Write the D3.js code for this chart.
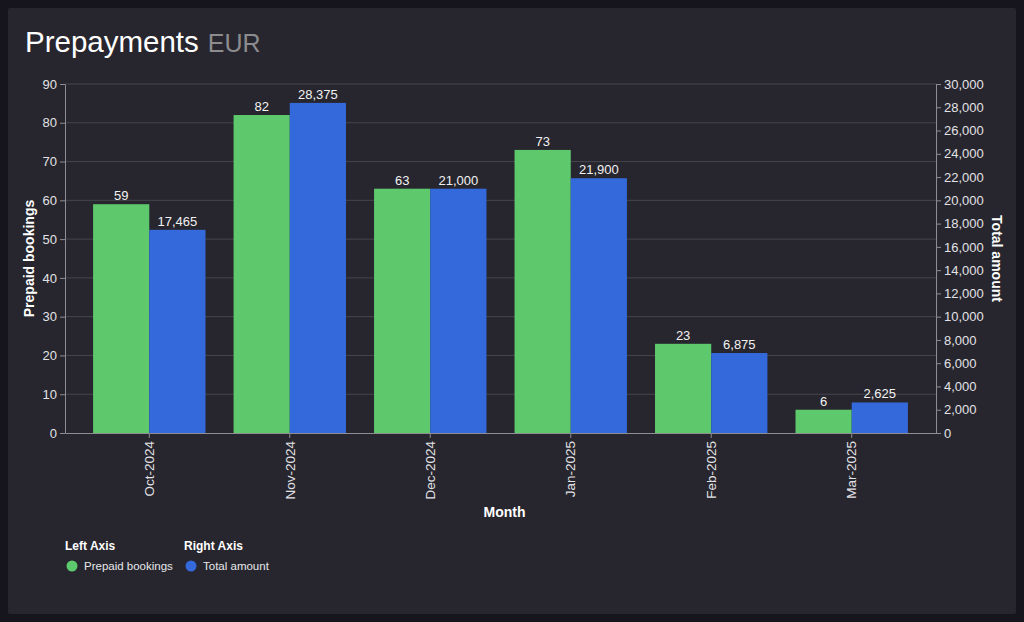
<!DOCTYPE html>
<html>
<head>
<meta charset="utf-8">
<script src="https://cdn.jsdelivr.net/npm/d3@7"></script>
<style>
  html, body { margin: 0; padding: 0; background: #16151d; }
  svg { display: block; font-family: "Liberation Sans", Arial, sans-serif; }
</style>
</head>
<body>
<div id="plot"></div>
<script>
// data
var months = ["Oct-2024", "Nov-2024", "Dec-2024", "Jan-2025", "Feb-2025", "Mar-2025"];
var bookings = [59, 82, 63, 73, 23, 6];
var amounts = [17465, 28375, 21000, 21900, 6875, 2625];
var leftTicks = [0, 10, 20, 30, 40, 50, 60, 70, 80, 90];
var rightTicks = d3.range(0, 30001, 2000);

var W = 1024, H = 622;
var margin = {top: 84, right: 88, bottom: 189, left: 65},
    width = W - margin.left - margin.right,
    height = H - margin.top - margin.bottom;

var green = "#5ec96c", blue = "#3469db";

var root = d3.select("#plot").append("svg")
    .attr("width", W).attr("height", H);

// panel
root.append("rect")
    .attr("x", 8).attr("y", 8).attr("width", 1008).attr("height", 606)
    .attr("rx", 2)
    .style("fill", "#27262e");

// title
var title = root.append("text")
    .attr("x", 25).attr("y", 52)
    .style("font-size", "29.5px")
    .style("fill", "#ffffff");
title.append("tspan").text("Prepayments");
title.append("tspan").attr("dx", 9).style("fill", "#8c8c90").style("font-size", "25px").text("EUR");

var svg = root.append("g")
    .attr("transform", "translate(" + margin.left + "," + margin.top + ")");

var x = d3.scaleBand()
    .domain(months)
    .range([0, width])
    .paddingInner(0.2)
    .paddingOuter(0.2);

var xSub = d3.scaleBand()
    .domain(["bookings", "amount"])
    .range([0, x.bandwidth()]);

var yL = d3.scaleLinear().domain([0, 90]).range([height, 0]);
var yR = d3.scaleLinear().domain([0, 30000]).range([height, 0]);

// grid
svg.append("g")
    .selectAll("line")
    .data(leftTicks.slice(1))
    .enter()
    .append("line")
    .attr("x1", 0).attr("x2", width)
    .attr("y1", function (d) { return yL(d); })
    .attr("y2", function (d) { return yL(d); })
    .style("stroke", "#45464e")
    .style("stroke-width", 1);

// bars
var groups = svg.append("g")
    .selectAll("g")
    .data(months)
    .enter()
    .append("g")
    .attr("transform", function (d) { return "translate(" + x(d) + ",0)"; });

groups.append("rect")
    .attr("x", xSub("bookings"))
    .attr("y", function (d, i) { return yL(bookings[i]); })
    .attr("width", xSub.bandwidth())
    .attr("height", function (d, i) { return height - yL(bookings[i]); })
    .style("fill", green);

groups.append("rect")
    .attr("x", xSub("amount"))
    .attr("y", function (d, i) { return yR(amounts[i]); })
    .attr("width", xSub.bandwidth())
    .attr("height", function (d, i) { return height - yR(amounts[i]); })
    .style("fill", blue);

// value labels
groups.append("text")
    .attr("x", xSub("bookings") + xSub.bandwidth() / 2)
    .attr("y", function (d, i) { return yL(bookings[i]) - 4; })
    .attr("text-anchor", "middle")
    .style("font-size", "13px")
    .style("fill", "#f2f2f2")
    .text(function (d, i) { return bookings[i]; });

groups.append("text")
    .attr("x", xSub("amount") + xSub.bandwidth() / 2)
    .attr("y", function (d, i) { return yR(amounts[i]) - 4; })
    .attr("text-anchor", "middle")
    .style("font-size", "13px")
    .style("fill", "#f2f2f2")
    .text(function (d, i) { return d3.format(",")(amounts[i]); });

// axes
var axisColor = "#8d8d93", tickText = "#e2e2e6";

var gx = svg.append("g")
    .attr("transform", "translate(0," + height + ")")
    .call(d3.axisBottom(x).tickSize(5).tickSizeOuter(0));

var gl = svg.append("g")
    .call(d3.axisLeft(yL).tickValues(leftTicks).tickSize(5).tickSizeOuter(0));

var gr = svg.append("g")
    .attr("transform", "translate(" + width + ",0)")
    .call(d3.axisRight(yR).tickValues(rightTicks).tickFormat(d3.format(",")).tickSize(5).tickSizeOuter(0));

[gx, gl, gr].forEach(function (g) {
    g.selectAll(".domain").style("stroke", axisColor);
    g.selectAll(".tick line").style("stroke", axisColor);
    g.selectAll(".tick text")
        .style("fill", tickText)
        .style("font-size", "13px")
        .style("font-family", "Liberation Sans, Arial, sans-serif");
});

gx.selectAll("text")
    .attr("transform", "rotate(-90)")
    .attr("x", -8).attr("y", 0).attr("dy", "0.35em")
    .style("text-anchor", "end")
    .style("font-size", "13.5px");

// axis titles
svg.append("text")
    .attr("text-anchor", "middle")
    .attr("x", width / 2 + 4)
    .attr("y", height + 84)
    .style("font-size", "14px")
    .style("font-weight", "bold")
    .style("fill", "#ffffff")
    .text("Month");

svg.append("text")
    .attr("text-anchor", "middle")
    .attr("transform", "translate(-31," + (height / 2) + ") rotate(-90)")
    .style("font-size", "14px")
    .style("font-weight", "bold")
    .style("fill", "#ffffff")
    .text("Prepaid bookings");

svg.append("text")
    .attr("text-anchor", "middle")
    .attr("transform", "translate(" + (width + 56) + "," + (height / 2) + ") rotate(90)")
    .style("font-size", "14px")
    .style("font-weight", "bold")
    .style("fill", "#ffffff")
    .text("Total amount");

// legend
var legend = [
    {head: "Left Axis", name: "Prepaid bookings", color: green, x: 65},
    {head: "Right Axis", name: "Total amount", color: blue, x: 184}
];
var lg = root.append("g")
    .selectAll("g")
    .data(legend)
    .enter()
    .append("g")
    .attr("transform", function (d) { return "translate(" + d.x + ",0)"; });

lg.append("text")
    .attr("x", 0).attr("y", 550)
    .style("font-size", "12px")
    .style("font-weight", "bold")
    .style("fill", "#ffffff")
    .text(function (d) { return d.head; });

lg.append("circle")
    .attr("cx", 7).attr("cy", 566).attr("r", 5.5)
    .style("fill", function (d) { return d.color; });

lg.append("text")
    .attr("x", 19).attr("y", 570)
    .style("font-size", "11.5px")
    .style("fill", "#e6e6ea")
    .text(function (d) { return d.name; });
</script>
</body>
</html>
